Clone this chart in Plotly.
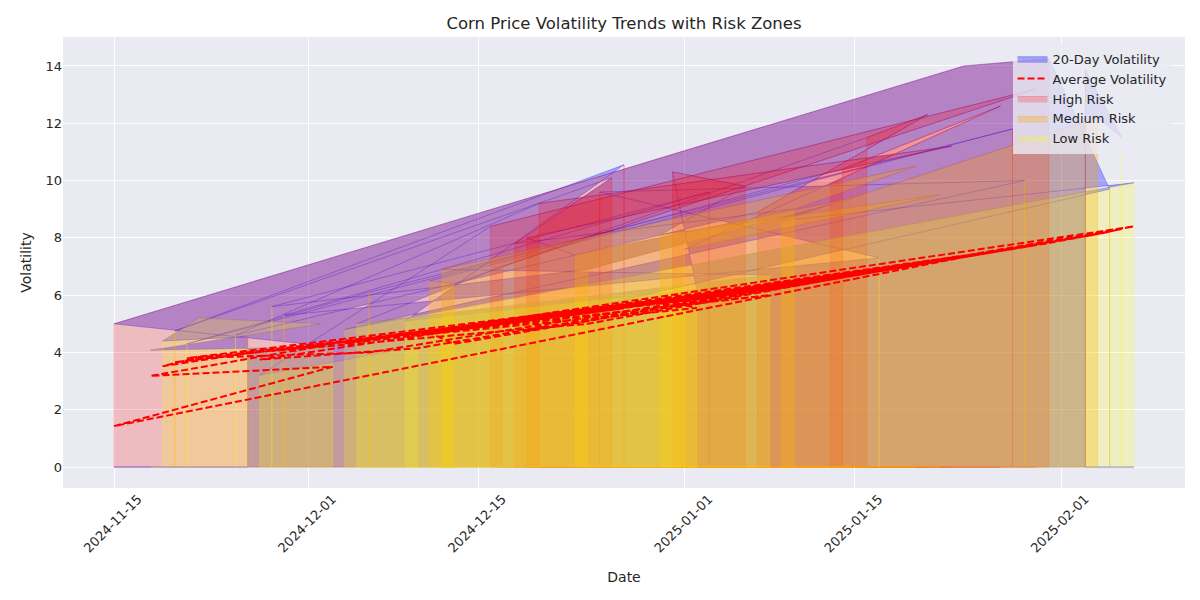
import plotly.graph_objects as go

# ---- data (plotted in the original, unsorted row order) ----
dates = [
    "2024-11-26", "2024-11-19", "2024-11-22", "2024-12-02", "2024-11-18", "2024-12-03",
    "2024-11-15", "2025-01-24", "2025-01-31", "2025-02-05", "2024-12-10", "2024-11-27",
    "2024-12-16", "2025-01-30", "2024-12-17", "2024-12-05", "2025-01-08", "2024-12-12",
    "2025-01-20", "2025-01-10", "2024-12-18", "2024-12-26", "2024-11-20", "2024-12-27",
    "2024-12-09", "2025-01-02", "2024-12-31", "2025-01-06", "2024-12-30", "2025-01-22",
    "2025-01-01", "2025-01-13", "2025-01-27", "2025-01-14", "2024-11-21", "2024-12-06",
    "2025-01-28", "2024-12-11", "2024-12-13", "2025-01-16", "2025-01-21", "2025-01-07",
    "2024-11-25", "2024-12-20", "2025-01-23", "2024-12-19", "2024-12-23", "2025-01-15",
    "2024-12-24", "2024-11-28", "2025-01-03", "2024-11-29", "2025-01-17", "2024-12-25",
    "2025-01-29", "2024-12-04", "2025-02-07", "2025-01-09", "2025-02-04", "2025-02-06",
    "2025-02-03",
]
volatility = [
    4.55, 4.4, 5.2, 5.0, 4.08, 4.2,
    5.0, 14.0, 14.25, 9.7, 4.2, 3.2,
    8.4, 13.2, 7.0, 5.0, 6.7, 6.9,
    10.5, 9.0, 7.8, 10.1, 4.75, 10.55,
    5.1, 6.2, 10.3, 9.8, 8.1, 9.5,
    7.6, 9.9, 12.6, 10.4, 4.3, 6.1,
    11.8, 6.5, 6.4, 11.5, 12.3, 8.9,
    4.6, 9.2, 11.2, 8.0, 7.4, 9.4,
    6.9, 5.6, 9.6, 5.3, 7.3, 9.6,
    10.0, 4.8, 9.92, 8.6, 12.2, 11.5,
    13.86,
]
avg_volatility = [
    3.98, 3.52, 3.84, 4.22, 3.18, 3.50,
    1.43, 7.33, 7.82, 8.22, 4.15, 3.75,
    4.95, 7.75, 5.00, 4.36, 6.00, 4.73,
    7.05, 6.35, 5.05, 5.49, 3.66, 5.54,
    4.56, 5.55, 5.75, 6.10, 5.70, 7.19,
    5.80, 6.55, 7.54, 6.62, 3.80, 4.00,
    7.61, 4.68, 4.30, 6.77, 7.12, 6.16,
    3.95, 5.16, 7.26, 4.75, 5.33, 6.70,
    5.00, 4.05, 5.92, 4.10, 6.84, 5.43,
    7.68, 4.32, 8.40, 6.28, 8.13, 8.31,
    8.05,
]
risk_level = [
    "Medium", "Low", "Low", "Low", "Low", "Low",
    "High", "High", "High", "Medium", "Low", "Low",
    "High", "High", "High", "Low", "Low", "Medium",
    "Medium", "Medium", "High", "High", "Medium", "High",
    "Low", "Low", "High", "High", "Medium", "Medium",
    "Medium", "High", "High", "High", "Low", "Medium",
    "High", "Medium", "Medium", "High", "High", "High",
    "Low", "High", "High", "High", "Medium", "Medium",
    "Medium", "Low", "High", "Medium", "Low", "High",
    "Medium", "Low", "Low", "Medium", "Medium", "Low",
    "High",
]
tick_dates = ["2024-11-15", "2024-12-01", "2024-12-15", "2025-01-01", "2025-01-15", "2025-02-01"]
tick_labels = ["2024-11-15", "2024-12-01", "2024-12-15", "2025-01-01", "2025-01-15", "2025-02-01"]

# ---- styles ----
BG = "#EAEAF2"
zone_style = {
    "High": ("High Risk", "rgba(255,0,0,0.2)", 3),
    "Medium": ("Medium Risk", "rgba(255,165,0,0.3)", 4),
    "Low": ("Low Risk", "rgba(255,255,0,0.2)", 5),
}


def fill_polygon(xs, ys):
    """Polygon of an area filled down to zero, built in row order."""
    px = [xs[0]] + list(xs) + [xs[-1]] + list(reversed(xs))
    py = [0.0] + list(ys) + [0.0] + [0.0] * len(xs)
    return px, py


fig = go.Figure()

# 20-day volatility area
px, py = fill_polygon(dates, volatility)
fig.add_trace(go.Scatter(
    x=px, y=py, mode="lines", fill="toself",
    fillcolor="rgba(0,0,255,0.3)", line=dict(color="rgba(0,0,255,0.3)", width=1),
    name="20-Day Volatility", legendrank=1, hoverinfo="skip",
))

# risk zones: one polygon per contiguous run of rows with the same risk level
runs = []
start = 0
for i in range(1, len(dates) + 1):
    if i == len(dates) or risk_level[i] != risk_level[start]:
        runs.append((risk_level[start], start, i))
        start = i

shown = set()
for level in ["High", "Medium", "Low"]:
    label, color, rank = zone_style[level]
    for lv, s, e in runs:
        if lv != level:
            continue
        px, py = fill_polygon(dates[s:e], volatility[s:e])
        fig.add_trace(go.Scatter(
            x=px, y=py, mode="lines", fill="toself",
            fillcolor=color, line=dict(color=color, width=1),
            name=label, legendgroup=level, showlegend=level not in shown,
            legendrank=rank, hoverinfo="skip",
        ))
        shown.add(level)

# average volatility
fig.add_trace(go.Scatter(
    x=dates, y=avg_volatility, mode="lines",
    line=dict(color="red", width=2, dash="7px,3px"),
    name="Average Volatility", legendrank=2,
))

# the page body adds an 8 px offset, so the figure is sized to fit the window
fig.update_layout(
    width=1192, height=592,
    paper_bgcolor="white", plot_bgcolor=BG,
    margin=dict(l=55, r=15, t=29, b=112, autoexpand=False),
    font=dict(family="DejaVu Sans", size=13, color="#262626"),
    title=dict(text="Corn Price Volatility Trends with Risk Zones",
               xref="paper", x=0.5, xanchor="center",
               yref="container", y=0.975, yanchor="middle",
               font=dict(size=16.5, color="#262626")),
    legend=dict(x=0.988, y=0.985, xanchor="right", yanchor="top",
                bgcolor="rgba(234,234,242,0.8)", borderwidth=0,
                font=dict(size=13), tracegroupgap=0),
    showlegend=True,
)
fig.update_xaxes(
    range=["2024-11-10 19:00", "2025-02-11 05:00"], automargin=False,
    tickvals=tick_dates, ticktext=tick_labels, tickangle=-45,
    ticklabelshift=24,
    showgrid=True, gridcolor="white", gridwidth=1, zeroline=False,
    showline=False, ticks="", tickfont=dict(size=13),
    title=dict(text="Date", font=dict(size=14), standoff=17),
)
fig.update_yaxes(
    range=[-0.73, 15.01], dtick=2, tick0=0, automargin=False,
    showgrid=True, gridcolor="white", gridwidth=1, zeroline=False,
    showline=False, ticks="", tickfont=dict(size=13),
    title=dict(text="Volatility", font=dict(size=14), standoff=10),
)

fig.write_html("out.html")
